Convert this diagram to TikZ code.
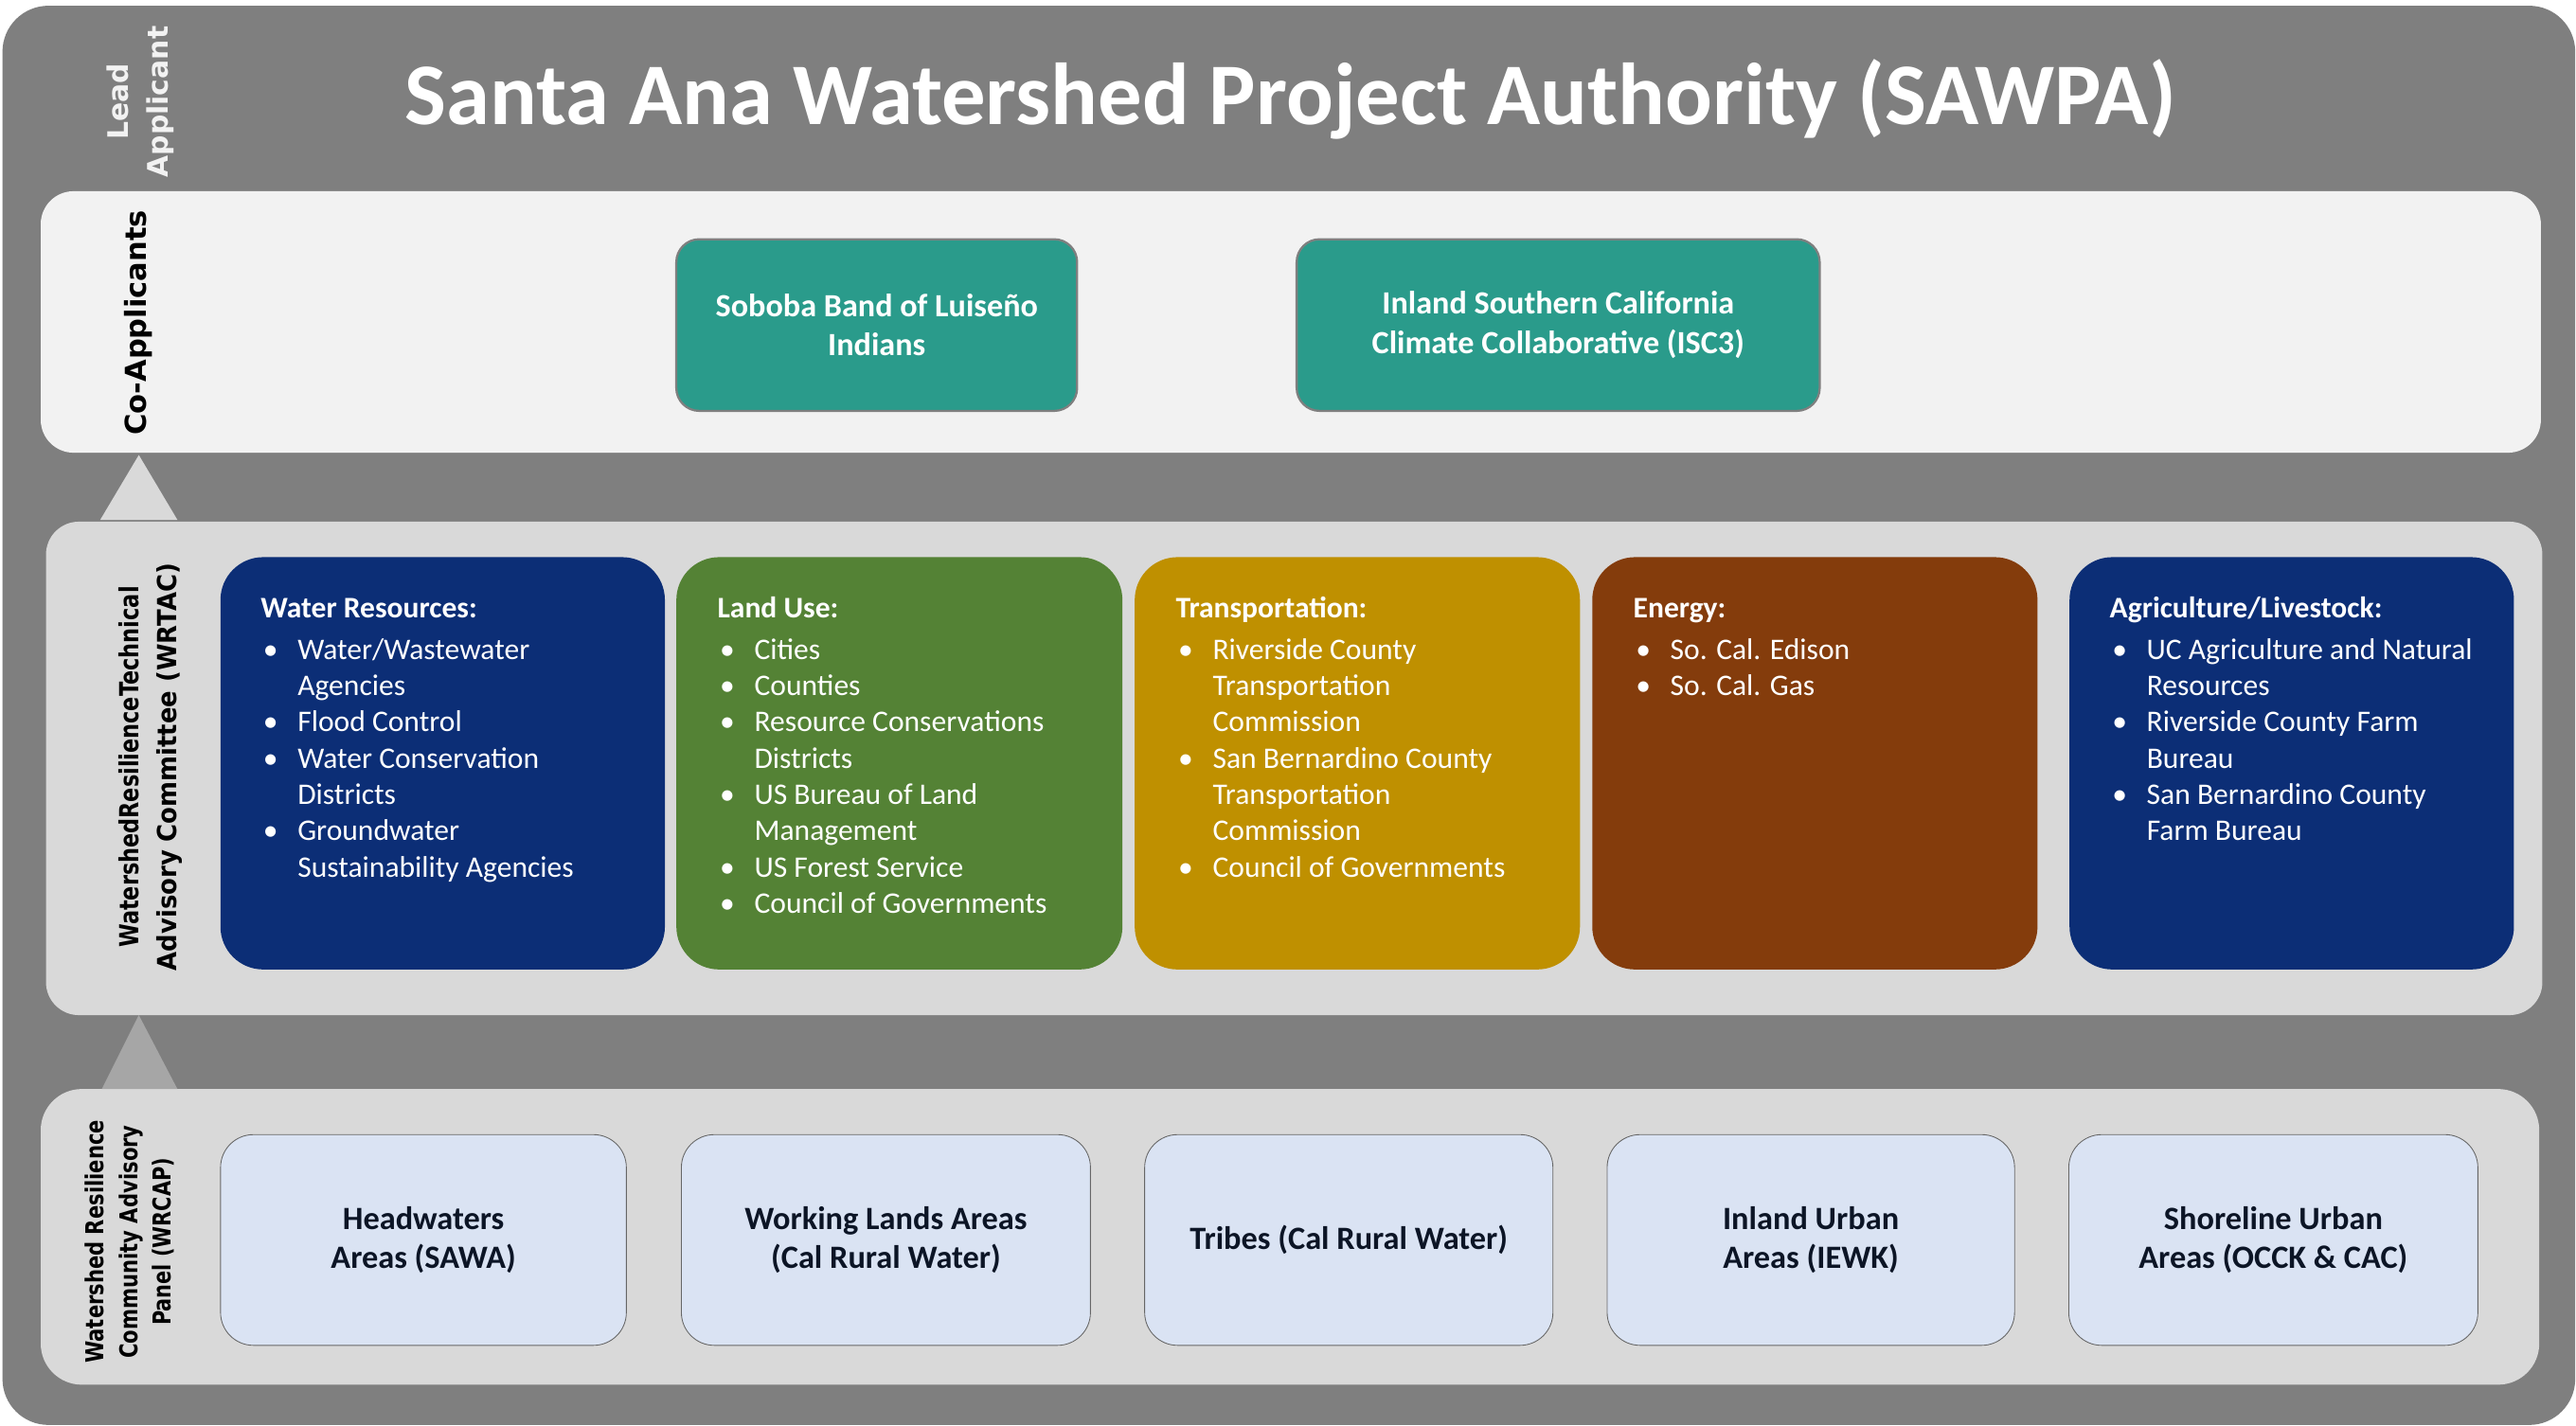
\documentclass[tikz,border=0pt]{standalone}
\usepackage{fontspec}
\usepackage{graphicx}
\setmainfont{Carlito}
\newfontfamily\verd{DejaVu Sans}
\usetikzlibrary{calc}
\definecolor{outergray}{HTML}{7F7F7F}
\definecolor{coapp}{HTML}{F2F2F2}
\definecolor{panelgray}{HTML}{D9D9D9}
\definecolor{triup}{HTML}{D9D9D9}
\definecolor{tridown}{HTML}{A6A6A6}
\definecolor{navy}{RGB}{12,46,118}
\definecolor{landgreen}{HTML}{548235}
\definecolor{gold}{HTML}{BF9000}
\definecolor{brown}{HTML}{843C0C}
\definecolor{teal}{HTML}{2A9B8B}
\definecolor{lightblue}{HTML}{DAE3F3}
\definecolor{darktext}{HTML}{0C1526}
\newcommand{\blt}[1]{\makebox[22.5pt][l]{\hspace{1.5pt}•}#1}
\newcommand{\cnt}[1]{\hspace{22.5pt}#1}
\newcommand{\firstline}{\rule{0pt}{15pt}}
\tikzset{
  topbox/.style={shape=rectangle, anchor=north west, rounded corners=26pt, inner sep=0pt, minimum height=251pt, fill=#1},
  teambox/.style={shape=rectangle, anchor=north west, rounded corners=14pt, inner sep=0pt, minimum height=104.5pt, fill=teal, draw=outergray, line width=1.3pt},
  areabox/.style={shape=rectangle, anchor=north west, rounded corners=20pt, inner sep=0pt, minimum height=128.3pt, fill=lightblue, draw=black!60, line width=0.5pt},
  listtext/.style={anchor=north west, inner sep=0pt, align=left, text=white, font=\fontsize{18.2}{22.1}\selectfont},
  teamtext/.style={inner sep=0pt, align=center, text=white, font=\bfseries\fontsize{19.7}{24}\selectfont},
  areatext/.style={inner sep=0pt, align=center, text=darktext, font=\bfseries\fontsize{19.8}{24}\selectfont},
  sidelabel/.style={inner sep=0pt, align=center, rotate=90},
}
\begin{document}
\begin{tikzpicture}[x=1pt, y=-1pt]
% canvas
\fill[white] (0,0) rectangle (1568,868);
\useasboundingbox (0,0) rectangle (1568,868);
\fill[outergray, rounded corners=28pt] (1.5,3.5) rectangle (1567.5,867.5);
% panels
\fill[coapp, rounded corners=20pt] (24.8,116.4) rectangle (1546.6,275.6);
\fill[panelgray, rounded corners=20pt] (28,317.6) rectangle (1547.5,618);
\fill[panelgray, rounded corners=25pt] (24.8,663) rectangle (1545.6,843);
% triangles
\fill[triup] (84.5,277) -- (108,316.5) -- (61,316.5) -- cycle;
\fill[tridown] (84.5,618) -- (108,663) -- (62,663) -- cycle;
% title
\node[anchor=base, inner sep=0pt, text=white, font=\bfseries\fontsize{53.5}{60}\selectfont] (title) at (785.5,76) {Santa Ana Watershed Project Authority (SAWPA)};
% side labels
\node[sidelabel, text=coapp, font=\verd\bfseries\fontsize{17.2}{24.5}\selectfont] (lead) at (85.5,62) {Lead\\Applicant};
\node[sidelabel, text=black, font=\verd\bfseries\fontsize{17.6}{21}\selectfont] (colab) at (84,196.5) {Co-Applicants};
\node[sidelabel, text=black, font=\verd\bfseries\fontsize{16}{23}\selectfont] (wrtaclab) at (91.5,467) {\resizebox{220pt}{\height}{WatershedResilienceTechnical}\\\resizebox{248pt}{\height}{Advisory Committee (WRTAC)}};
\node[sidelabel, text=black, font=\verd\bfseries\fontsize{15}{20.5}\selectfont] (wrcaplab) at (79,756) {\resizebox{148pt}{\height}{Watershed Resilience}\\\resizebox{142pt}{\height}{Community Advisory}\\\resizebox{102pt}{\height}{Panel (WRCAP)}};
% co-applicants
\node[teambox, minimum width=244pt] (soboba) at (411,145) {};
\node[teamtext] (sobobatxt) at (soboba.center) {Soboba Band of Luiseño\\Indians};
\node[teambox, minimum width=318.4pt] (isc) at (788.6,145) {};
\node[teamtext] (isctxt) at (isc.center) {Inland Southern California\\Climate Collaborative (ISC3)};
% WRTAC boxes
\node[topbox=navy, minimum width=270.5pt] (wr) at (134,339) {};
\node[topbox=landgreen, minimum width=271.5pt] (lu) at (411.5,339) {};
\node[topbox=gold, minimum width=271pt] (tr) at (690.5,339) {};
\node[topbox=brown, minimum width=271pt] (en) at (969,339) {};
\node[topbox=navy, minimum width=270.5pt] (ag) at (1259.5,339) {};
\node[listtext] (wrtxt) at ($(wr.north west)+(24.5,22)$) {\firstline\textbf{Water Resources:}\\[3pt]
\blt{Water/Wastewater}\\ \cnt{Agencies}\\ \blt{Flood Control}\\ \blt{Water Conservation}\\ \cnt{Districts}\\ \blt{Groundwater}\\ \cnt{Sustainability Agencies}};
\node[listtext] (lutxt) at ($(lu.north west)+(25,22)$) {\firstline\textbf{Land Use:}\\[3pt]
\blt{Cities}\\ \blt{Counties}\\ \blt{Resource Conservations}\\ \cnt{Districts}\\ \blt{US Bureau of Land}\\ \cnt{Management}\\ \blt{US Forest Service}\\ \blt{Council of Governments}};
\node[listtext] (trtxt) at ($(tr.north west)+(25,22)$) {\firstline\textbf{Transportation:}\\[3pt]
\blt{Riverside County}\\ \cnt{Transportation}\\ \cnt{Commission}\\ \blt{San Bernardino County}\\ \cnt{Transportation}\\ \cnt{Commission}\\ \blt{Council of Governments}};
\node[listtext] (entxt) at ($(en.north west)+(25,22)$) {\firstline\textbf{Energy:}\\[3pt]
\blt{So. Cal. Edison}\\ \blt{So. Cal. Gas}};
\node[listtext] (agtxt) at ($(ag.north west)+(24.5,22)$) {\firstline\textbf{Agriculture/Livestock:}\\[3pt]
\blt{UC Agriculture and Natural}\\ \cnt{Resources}\\ \blt{Riverside County Farm}\\ \cnt{Bureau}\\ \blt{San Bernardino County}\\ \cnt{Farm Bureau}};
% WRCAP boxes
\node[areabox, minimum width=247pt] (hw) at (134,690.5) {};
\node[areabox, minimum width=249pt] (wl) at (414.5,690.5) {};
\node[areabox, minimum width=248.5pt] (tb) at (696.5,690.5) {};
\node[areabox, minimum width=248pt] (iu) at (978,690.5) {};
\node[areabox, minimum width=249pt] (sl) at (1259,690.5) {};
\node[areatext] (hwtxt) at (hw.center) {Headwaters\\Areas (SAWA)};
\node[areatext] (wltxt) at (wl.center) {Working Lands Areas\\(Cal Rural Water)};
\node[areatext] (tbtxt) at (tb.center) {Tribes (Cal Rural Water)};
\node[areatext] (iutxt) at (iu.center) {Inland Urban\\Areas (IEWK)};
\node[areatext] (sltxt) at (sl.center) {Shoreline Urban\\Areas (OCCK \& CAC)};
\end{tikzpicture}
\end{document}
